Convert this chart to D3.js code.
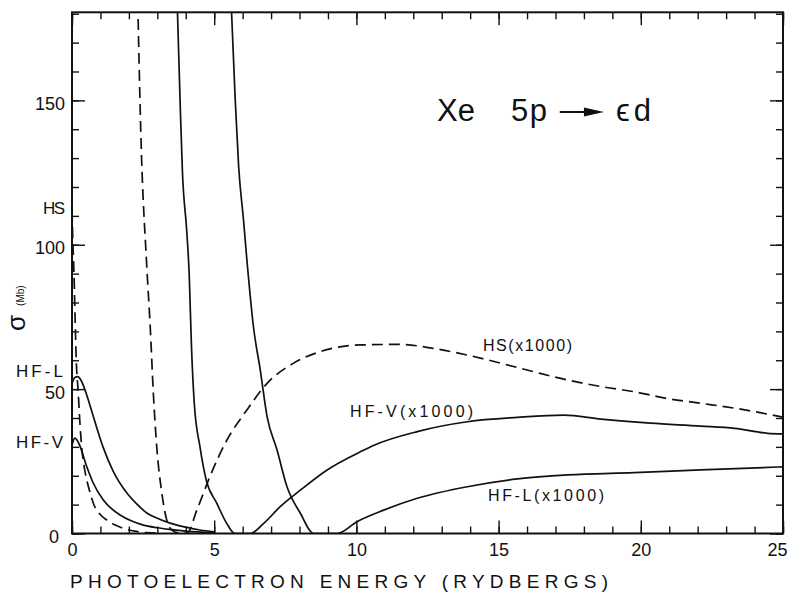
<!DOCTYPE html>
<html>
<head>
<meta charset="utf-8">
<script src="https://cdn.jsdelivr.net/npm/d3@7"></script>
<style>
  html, body { margin: 0; padding: 0; background: #fff; }
  svg { display: block; }
  text { font-family: "Liberation Sans", Arial, sans-serif; fill: #111; }
</style>
</head>
<body>
<svg id="chart" width="792" height="598"></svg>
<script>
// ---------------- data ----------------
// HS, low energy (dashed)
const hsLowE = [0, 0.03, 0.07, 0.11, 0.15, 0.22, 0.28, 0.34, 0.43, 0.52, 0.64, 0.75, 1.0, 1.22, 1.5, 1.8, 2.2, 2.6, 3.0];
const hsLowS = [112, 101, 90, 74, 60, 48.7, 38, 30, 23, 18.5, 14, 10.5, 6.5, 4.7, 3, 1.8, 0.8, 0.3, 0.1];
// HF-L, low energy (solid)
const hfLLowE = [0, 0.1, 0.2, 0.32, 0.5, 0.75, 1.09, 1.45, 1.93, 2.3, 2.63, 3.0, 3.45, 4.0, 4.5, 5.0];
const hfLLowS = [52, 54, 54.3, 53, 48.5, 40.5, 30, 21.5, 14, 10, 7.1, 5.3, 3.6, 2.2, 1.2, 0.6];
// HF-V, low energy (solid)
const hfVLowE = [0, 0.1, 0.25, 0.52, 0.75, 1.1, 1.69, 2.1, 2.51, 3.0, 3.45, 4.0, 5.0];
const hfVLowS = [30.5, 33, 31, 23.1, 17.4, 11.6, 6.4, 4.3, 2.9, 2.0, 1.4, 0.8, 0.3];
// HS (x1000) (dashed)
const hsKE = [2.3, 2.42, 2.63, 2.75, 2.86, 2.98, 3.16, 3.33, 3.51, 3.75, 4.04, 4.39, 4.86, 5.45, 6.15, 6.86, 7.79, 8.73, 10.14, 11.55, 12.7, 13.9, 15.07, 16.24, 17.4, 18.6, 19.76, 20.9, 22.1, 23.3, 25];
const hsKS = [190, 138.6, 92.4, 71.6, 48.6, 30, 13.9, 4.7, 1.2, 0.2, 0, 8.1, 20, 32.4, 42.8, 52, 59, 63, 65.3, 65.5, 64.1, 61.8, 59, 56, 53.2, 50.9, 49.1, 46.8, 45.1, 43.4, 40.3];
// HF-V (x1000) (solid)
const hfVKE = [3.68, 3.8, 3.88, 4.04, 4.12, 4.2, 4.3, 4.5, 4.72, 5.09, 5.44, 5.73, 6.0, 6.27, 6.74, 7.32, 8.03, 8.97, 10.14, 10.6, 12.14, 13.9, 15.66, 17.3, 18.6, 20.35, 22.1, 23.3, 24.46, 25];
const hfVKS = [190, 150, 126, 104, 90, 65, 45, 30, 18.5, 10.5, 3.5, 0, 0, 0, 3.5, 9.3, 15, 22, 28.3, 30.5, 35.3, 38.7, 40.2, 41, 39.6, 38.2, 37.2, 36.4, 34.7, 34.5];
// HF-L (x1000) (solid)
const hfLKE = [5.57, 5.74, 5.86, 6.03, 6.15, 6.38, 6.62, 6.86, 7.21, 7.56, 8.03, 8.5, 9.0, 9.32, 10.02, 10.96, 12.14, 13.9, 15.66, 17.42, 19.76, 22.1, 25];
const hfLKS = [190, 150, 127, 108.6, 94.7, 71.6, 56.6, 40.5, 28.9, 16.2, 7, 0, 0, 0, 4.1, 8.1, 12.2, 16.2, 18.9, 20.3, 21.1, 22, 23.1];

const xMajor = [0, 5, 10, 15, 20, 25];
const yMajor = [0, 50, 100, 150];

// ---------------- layout ----------------
const svg = d3.select("#chart");
const L = 72, R = 783, T = 12.3, B = 533.5;
const x = d3.scaleLinear().domain([0, 25]).range([L, R]);
const y = d3.scaleLinear().domain([0, 180.5]).range([B, T]);

svg.append("defs").append("clipPath").attr("id", "clip")
  .append("rect").attr("x", L).attr("y", T).attr("width", R - L).attr("height", B - T);

const fs = 18;
// bottom axis
const gB = svg.append("g").attr("transform", `translate(0,${B})`);
gB.call(d3.axisBottom(x).tickValues(d3.range(0, 26, 1)).tickSize(-7).tickFormat(""));
const gB2 = svg.append("g").attr("transform", `translate(0,${B})`);
gB2.call(d3.axisBottom(x).tickValues(xMajor).tickSize(-13).tickPadding(10).tickFormat(d3.format("d")));
// top axis
const gT = svg.append("g").attr("transform", `translate(0,${T})`);
gT.call(d3.axisTop(x).tickValues(d3.range(0, 26, 1)).tickSize(-7).tickFormat(""));
gT.call(g => g.append("g").call(d3.axisTop(x).tickValues(xMajor).tickSize(-13).tickFormat("")));
// left axis
const gL = svg.append("g").attr("transform", `translate(${L},0)`);
gL.call(d3.axisLeft(y).tickValues(d3.range(0, 181, 10)).tickSize(-7).tickFormat(""));
const gL2 = svg.append("g").attr("transform", `translate(${L},0)`);
gL2.call(d3.axisLeft(y).tickValues(yMajor).tickSize(-13).tickPadding(7).tickFormat(d3.format("d")));
// right axis
const gR = svg.append("g").attr("transform", `translate(${R},0)`);
gR.call(d3.axisRight(y).tickValues(d3.range(0, 181, 10)).tickSize(-7).tickFormat(""));
gR.call(g => g.append("g").call(d3.axisRight(y).tickValues(yMajor).tickSize(-13).tickFormat("")));

svg.selectAll(".domain").remove();
svg.selectAll(".tick line").attr("stroke", "#111").attr("stroke-width", 1.4);
svg.selectAll(".tick text").attr("font-size", fs).attr("fill", "#111")
  .attr("font-family", "Liberation Sans, Arial, sans-serif");
gL2.selectAll(".tick text").attr("dy", "0.5em")
  .filter(d => d === 0).attr("x", -13);
gB2.selectAll(".tick text").filter(d => d === 25).attr("x", -6);

// frame
svg.append("rect").attr("x", L).attr("y", T).attr("width", R - L).attr("height", B - T)
  .attr("fill", "none").attr("stroke", "#111").attr("stroke-width", 2);

// ---------------- curves ----------------
const line = d3.line().x(d => x(d[0])).y(d => y(d[1])).curve(d3.curveMonotoneX);
const series = [
  { e: hsLowE, s: hsLowS, dash: "11,6" },
  { e: hfLLowE, s: hfLLowS, dash: null },
  { e: hfVLowE, s: hfVLowS, dash: null },
  { e: hsKE, s: hsKS, dash: "11,6" },
  { e: hfVKE, s: hfVKS, dash: null },
  { e: hfLKE, s: hfLKS, dash: null },
];
const gC = svg.append("g").attr("clip-path", "url(#clip)");
series.forEach(sr => {
  gC.append("path")
    .datum(sr.e.map((v, i) => [v, sr.s[i]]))
    .attr("d", line)
    .attr("fill", "none")
    .attr("stroke", "#111")
    .attr("stroke-width", 1.7)
    .attr("stroke-dasharray", sr.dash);
});

// ---------------- labels ----------------
function label(txt, x0, yc, size, len, anchor) {
  const t = svg.append("text").attr("x", x0).attr("y", yc).attr("dy", "0.36em")
    .attr("font-size", size).attr("text-anchor", anchor || "start").text(txt);
  if (len) t.attr("textLength", len).attr("lengthAdjust", "spacing");
  return t;
}
label("HS", 43, 208, 17, 22);
label("HF-L", 16, 371, 17, 47);
label("HF-V", 16, 442, 17, 47);
label("HS(x1000)", 483, 345, 16, 89);
label("HF-V(x1000)", 350, 411, 16, 123);
label("HF-L(x1000)", 488, 495, 16, 116);
label("PHOTOELECTRON ENERGY (RYDBERGS)", 70, 581, 19, 538);

// y-axis title (rotated)
const yt = svg.append("text").attr("transform", "translate(25,331) rotate(-90)");
yt.append("tspan").attr("font-size", 26).text("σ");
yt.append("tspan").attr("font-size", 10).attr("dx", 9).attr("dy", -1).text("(Mb)");

// title
const tf = "'DejaVu Sans', sans-serif";
label("Xe", 437, 110, 31, 38).attr("font-family", tf).attr("font-weight", 200);
label("5p", 511, 110, 31, 36).attr("font-family", tf).attr("font-weight", 200);
svg.append("line").attr("x1", x(17.15)).attr("x2", x(18.3)).attr("y1", 112).attr("y2", 112)
  .attr("stroke", "#111").attr("stroke-width", 1.8);
svg.append("path")
  .attr("d", `M${x(18.6) + 3},112 L${x(18.0)},107.5 L${x(18.0)},116.5 Z`)
  .attr("fill", "#111");
label("\u03F5d", 616, 110, 31, 35).attr("font-family", tf).attr("font-weight", 200);
</script>
</body>
</html>
